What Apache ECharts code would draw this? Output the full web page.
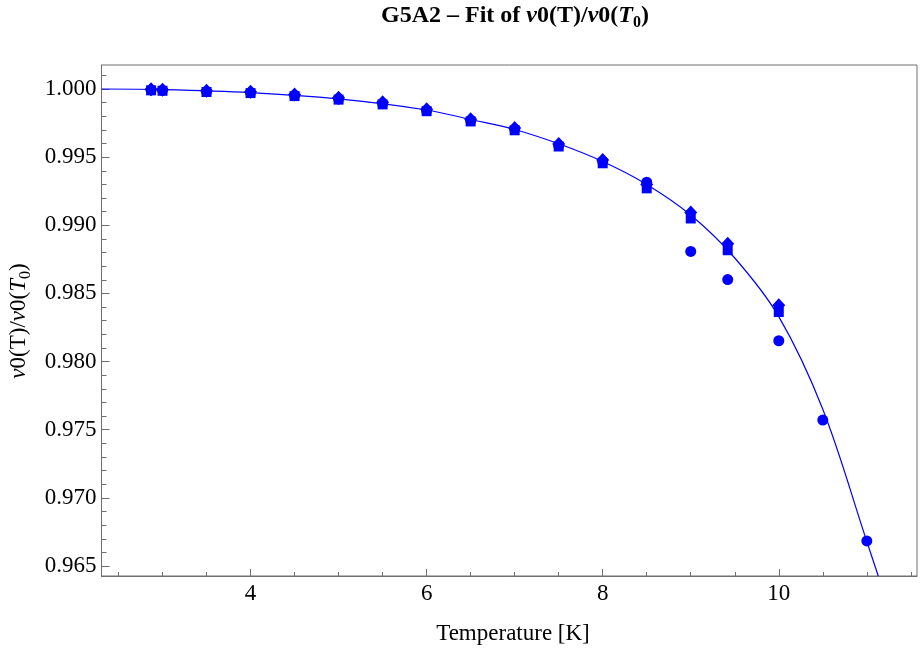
<!DOCTYPE html>
<html>
<head>
<meta charset="utf-8">
<script src="https://cdn.jsdelivr.net/npm/echarts@6/dist/echarts.min.js"></script>
<style>
  html, body { margin: 0; padding: 0; background: #ffffff; }
  #chart { width: 920px; height: 655px; }
</style>
</head>
<body>
<div id="chart"></div>
<script>
// Measured frequency ratio vs temperature, three data sets plus the fitted curve
const temps       = [2.87, 3.0, 3.5, 4.0, 4.5, 5.0, 5.5, 6.0, 6.5, 7.0, 7.5, 8.0, 8.5, 9.0, 9.42, 10.0, 10.5, 11.0];
const circleVals  = [0.99993, 0.99990, 0.99981, 0.99973, 0.99952, 0.99927, 0.99893, 0.99843, 0.99768, 0.99704, 0.99586, 0.99468, 0.99316, 0.98808, 0.98602, 0.98153, 0.97571, 0.96684];
const squareTemps = [2.87, 3.0, 3.5, 4.0, 4.5, 5.0, 5.5, 6.0, 6.5, 7.0, 7.5, 8.0, 8.5, 9.0, 9.42, 10.0];
const squareVals  = [0.99990, 0.99987, 0.99978, 0.99970, 0.99948, 0.99922, 0.99887, 0.99837, 0.99762, 0.99697, 0.99578, 0.99455, 0.99271, 0.99050, 0.98817, 0.98364];
const diamondTemps = [2.87, 3.0, 3.5, 4.0, 4.5, 5.0, 5.5, 6.0, 6.5, 7.0, 7.5, 8.0, 8.5, 9.0, 9.42, 10.0];
const diamondVals  = [0.99998, 0.99995, 0.99987, 0.99980, 0.99960, 0.99935, 0.99902, 0.99852, 0.99778, 0.99713, 0.99597, 0.99479, 0.99300, 0.99094, 0.98865, 0.98413];

// Fitted curve, sampled along its path
const fitT = [2.307, 3.0, 4.0, 5.0, 6.0, 6.5, 7.0, 7.5, 8.0, 8.5, 9.0, 9.5, 10.0, 10.5, 11.0, 11.13];
const fitV = [1.00000, 0.99996, 0.99974, 0.99927, 0.99846, 0.99776, 0.99703, 0.99598, 0.99468, 0.99300, 0.99075, 0.98760, 0.98330, 0.97650, 0.96680, 0.96427];

// Axis ranges and tick positions
const xMin = 2.307, xMax = 11.57;
const yMin = 0.96427, yMax = 1.00176;
const xMajorTicks = [4, 6, 8, 10];
const xMinorTicks = [2.5, 3, 3.5, 4.5, 5, 5.5, 6.5, 7, 7.5, 8.5, 9, 9.5, 10.5, 11, 11.5];
const yMajorTicks = [0.965, 0.970, 0.975, 0.980, 0.985, 0.990, 0.995, 1.000];
const yMinorTicks = [0.966, 0.967, 0.968, 0.969, 0.971, 0.972, 0.973, 0.974, 0.976, 0.977, 0.978, 0.979,
                     0.981, 0.982, 0.983, 0.984, 0.986, 0.987, 0.988, 0.989, 0.991, 0.992, 0.993, 0.994,
                     0.996, 0.997, 0.998, 0.999, 1.001];

const SERIF = '"Liberation Serif", "DejaVu Serif", serif';
const FRAME = '#6f6f6f';
const BLUE = '#0000ff';

const zip = (xs, ys) => xs.map((x, i) => [x, ys[i]]);

const chart = echarts.init(document.getElementById('chart'), null, { renderer: 'canvas' });

const baseAxis = {
  type: 'value',
  splitLine: { show: false },
  axisLine: { show: true, onZero: false, lineStyle: { color: FRAME, width: 1 } }
};

chart.setOption({
  animation: false,
  backgroundColor: '#ffffff',
  grid: {
    left: 101.5, top: 65, right: 3, bottom: 79,
    show: true, borderColor: FRAME, borderWidth: 1,
    containLabel: false
  },
  xAxis: [
    Object.assign({}, baseAxis, {
      min: xMin, max: xMax, position: 'bottom',
      axisTick: { show: true, inside: true, length: 7, customValues: xMajorTicks, lineStyle: { color: FRAME } },
      axisLabel: { show: true, customValues: xMajorTicks, margin: 6, color: '#000', fontFamily: SERIF, fontSize: 23,
                   formatter: v => String(v) }
    }),
    Object.assign({}, baseAxis, {
      min: xMin, max: xMax, position: 'bottom',
      axisLine: { show: false },
      axisTick: { show: true, inside: true, length: 4, customValues: xMinorTicks, lineStyle: { color: FRAME } },
      axisLabel: { show: false }
    })
  ],
  yAxis: [
    Object.assign({}, baseAxis, {
      min: yMin, max: yMax, position: 'left',
      axisTick: { show: true, inside: true, length: 8, customValues: yMajorTicks, lineStyle: { color: FRAME } },
      axisLabel: { show: true, customValues: yMajorTicks, margin: 5, color: '#000', fontFamily: SERIF, fontSize: 23,
                   formatter: v => v.toFixed(3) }
    }),
    Object.assign({}, baseAxis, {
      min: yMin, max: yMax, position: 'left',
      axisLine: { show: false },
      axisTick: { show: true, inside: true, length: 5, customValues: yMinorTicks, lineStyle: { color: FRAME } },
      axisLabel: { show: false }
    })
  ],
  graphic: [
    {
      type: 'text', x: 515, y: 16, z: 100,
      style: {
        text: '{b|G5A2 – Fit of }{bi|ν}{b|0(T)/}{bi|ν}{b|0(}{bi|T}{sub|0}{b|)}',
        align: 'center', verticalAlign: 'middle',
        rich: {
          b:   { fontFamily: SERIF, fontWeight: 'bold', fontSize: 24, lineHeight: 30, fill: '#000' },
          bi:  { fontFamily: SERIF, fontWeight: 'bold', fontStyle: 'italic', fontSize: 24, lineHeight: 30, fill: '#000' },
          sub: { fontFamily: SERIF, fontWeight: 'bold', fontSize: 16, lineHeight: 15, verticalAlign: 'bottom', fill: '#000' }
        }
      }
    },
    {
      type: 'text', x: 513, y: 634, z: 100,
      style: {
        text: 'Temperature [K]', align: 'center', verticalAlign: 'middle',
        fontFamily: SERIF, fontSize: 23, fill: '#000'
      }
    },
    {
      type: 'text', x: 19, y: 321, rotation: Math.PI / 2, z: 100,
      style: {
        text: '{i|ν}{r|0(T)/}{i|ν}{r|0(}{i|T}{sub|0}{r|)}',
        align: 'center', verticalAlign: 'middle',
        rich: {
          r:   { fontFamily: SERIF, fontSize: 23, lineHeight: 29, fill: '#000' },
          i:   { fontFamily: SERIF, fontStyle: 'italic', fontSize: 23, lineHeight: 29, fill: '#000' },
          sub: { fontFamily: SERIF, fontSize: 16, lineHeight: 15, verticalAlign: 'bottom', fill: '#000' }
        }
      }
    }
  ],
  series: [
    {
      name: 'fit', type: 'line', data: zip(fitT, fitV),
      smooth: 0.35, showSymbol: false, clip: true, z: 1,
      lineStyle: { color: BLUE, width: 1.2 }
    },
    {
      name: 'set A', type: 'scatter', data: zip(temps, circleVals),
      symbol: 'circle', symbolSize: 11, z: 2,
      itemStyle: { color: BLUE, opacity: 1 }
    },
    {
      name: 'set B', type: 'scatter', data: zip(squareTemps, squareVals),
      symbol: 'rect', symbolSize: 10, z: 3,
      itemStyle: { color: BLUE, opacity: 1 }
    },
    {
      name: 'set C', type: 'scatter', data: zip(diamondTemps, diamondVals),
      symbol: 'diamond', symbolSize: [13, 14], z: 4,
      itemStyle: { color: BLUE, opacity: 1 }
    }
  ]
});
</script>
</body>
</html>
